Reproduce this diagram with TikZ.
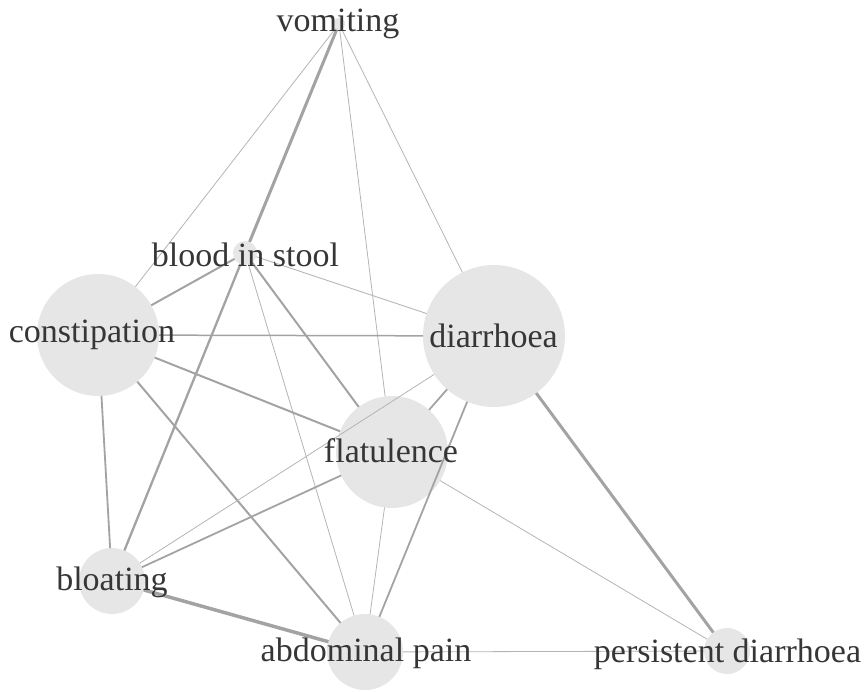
\documentclass[tikz,border=0pt]{standalone}
\usepackage{fontspec}
\setmainfont{Liberation Serif}
\definecolor{nodefill}{HTML}{E6E6E6}
\definecolor{edgecol}{HTML}{A3A3A3}
\definecolor{edgelight}{HTML}{B4B4B4}
\definecolor{txt}{HTML}{363636}
\begin{document}
\begin{tikzpicture}[x=1pt,y=-1pt,
  blob/.style={circle,fill=nodefill,draw=none,inner sep=0pt,outer sep=0pt,minimum size=#1},
  lbl/.style={anchor=base,inner sep=0pt,text=txt,font=\fontsize{34}{37}\selectfont},
  thin edge/.style={draw=edgelight,line width=0.8pt},
  med edge/.style={draw=edgecol,line width=#1},
]
\useasboundingbox (0,0) rectangle (865,692);
% circles
\node[blob=12pt] (vom) at (339,24) {};
\node[blob=24pt] (bis) at (245,253) {};
\node[blob=122pt] (con) at (98,335) {};
\node[blob=142pt] (dia) at (494,336) {};
\node[blob=112pt] (fla) at (392,452) {};
\node[blob=66pt] (blo) at (112,581) {};
\node[blob=76pt] (abd) at (365,652) {};
\node[blob=46pt] (per) at (727,651) {};
% edges
\draw[thin edge] (vom) -- (con);
\draw[med edge=3pt] (vom) -- (bis);
\draw[thin edge] (vom) -- (fla);
\draw[thin edge] (vom) -- (dia);
\draw[med edge=2pt] (bis) -- (con);
\draw[thin edge] (bis) -- (dia);
\draw[med edge=2pt] (bis) -- (fla);
\draw[thin edge] (bis) -- (abd);
\draw[med edge=2.3pt] (bis) -- (blo);
\draw[med edge=1.5pt] (con) -- (dia);
\draw[med edge=2pt] (con) -- (fla);
\draw[med edge=2pt] (con) -- (abd);
\draw[med edge=1.8pt] (con) -- (blo);
\draw[med edge=3pt] (dia) -- (per);
\draw[med edge=1.8pt] (dia) -- (fla);
\draw[med edge=1.8pt] (dia) -- (abd);
\draw[thin edge] (dia) -- (blo);
\draw[med edge=1.8pt] (fla) -- (blo);
\draw[thin edge] (fla) -- (per);
\draw[thin edge] (fla) -- (abd);
\draw[med edge=3.5pt] (blo) -- (abd);
\draw[thin edge] (abd) -- (per);
% labels
\node[lbl] (tvom) at (338,32) {vomiting};
\node[lbl] (tbis) at (245.5,267) {blood in stool};
\node[lbl] (tcon) at (92,343) {constipation};
\node[lbl] (tdia) at (493.5,348) {diarrhoea};
\node[lbl] (tfla) at (391,463) {flatulence};
\node[lbl] (tblo) at (112,590) {bloating};
\node[lbl] (tabd) at (366,661) {abdominal pain};
\node[lbl] (tper) at (727.5,662) {persistent diarrhoea};
\end{tikzpicture}
\end{document}
